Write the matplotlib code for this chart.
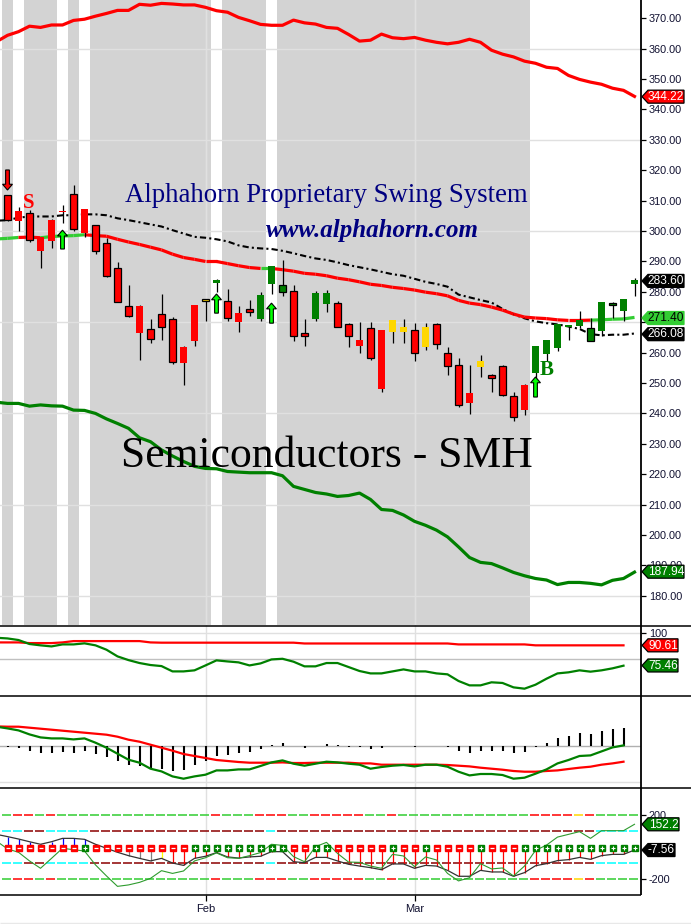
import numpy as np
import matplotlib
matplotlib.use('Agg')
import matplotlib.pyplot as plt
from matplotlib.patches import FancyArrow, Polygon

plt.rcParams['font.family'] = ['Liberation Sans', 'DejaVu Sans']

W, H = 691, 924

# candles, one entry per bar
opens = [312, 306.7, 305.9, 298, 303.7, 306.2, 312.1, 307.3, 302, 296, 287.8, 275.4, 275.5, 267.8, 272.7, 271.1, 262, 275.8, 277.7, 283,
         276.9, 272.9, 274.2, 271.2, 282.7, 279.9, 280.4, 266.5, 271.2, 276.1, 276.3, 269.5, 264, 268.1, 267.3, 270.9, 268.5, 267.5, 268.5, 269.5,
         259.9, 256, 246.8, 257.2, 252.7, 255.6, 245.8, 249.2, 253.2, 259.4, 261.4, 268.6, 268.7, 263.9, 267, 275.6, 273.6, 282.5]
highs = [312, 308, 307, 298, 304, 308.6, 315.2, 307.3, 302, 297.7, 289.8, 282.4, 275.8, 271.2, 279.4, 271.8, 262.3, 275.8, 277.7, 284.2,
         280.9, 275.3, 277.4, 279.9, 288.6, 290.6, 282.4, 271.2, 280.2, 280.7, 276.9, 269.8, 270.2, 270.2, 267.3, 270.9, 271.2, 269.6, 269.8, 269.8,
         262, 258.1, 255.8, 259.1, 253.1, 256, 247.1, 249.8, 262.3, 264, 269.5, 269, 273.8, 271.4, 276.8, 276.7, 277.8, 284.6]
lows = [303.2, 299.9, 296.3, 287.8, 294.4, 302.8, 299.9, 298, 292.6, 285, 276.7, 271.7, 257.5, 263.1, 264.1, 256.2, 249.5, 262.1, 270.3, 280,
        270.3, 266.7, 272, 270.5, 279.4, 278.5, 263.7, 262.1, 270.3, 273.3, 268.4, 261.8, 259.8, 257.5, 247, 263.1, 263.1, 257.2, 261, 261.2,
        252.6, 242, 239.9, 252, 247, 245.7, 237.5, 239.5, 251.5, 257.2, 260.5, 264, 268, 263.9, 265.4, 271.4, 270.3, 278.5]
closes = [303.7, 303.2, 297.1, 293.3, 296.6, 306.4, 300.6, 299.3, 293.3, 285.1, 276.7, 272, 266.4, 264.5, 268.5, 257, 256.5, 263.8, 277, 284,
          271.4, 270, 273.3, 279.1, 288.6, 282.4, 265.4, 265.4, 279.6, 279.6, 268.4, 265.4, 262.3, 258.3, 248, 266.7, 266.7, 259.9, 261.9, 262.9,
          255.6, 242.8, 243.3, 255.2, 251.7, 246.1, 238.9, 241.1, 262.3, 264, 269.5, 268.9, 270.7, 268.2, 276.8, 276.4, 277.8, 284]
candle_colors = list('rrrrrrrrrrrrrrrrrr' 'y' 'g' 'rrr' 'ggg' 'rr' 'gg' 'rrrrr' 'yy' 'r' 'y' 'rrrr' 'y' 'rrrr' 'gggggggggg')
outlined = [0, 2, 6, 8, 9, 10, 11, 13, 14, 15, 18, 20, 22, 25, 26, 27, 30, 31, 33, 37, 39, 40, 41, 44, 45, 46, 53, 55]
white_bars = [1, 5, 7, 19, 24, 48, 49, 50, 51, 52, 53, 54, 55, 56, 57]

# lines start one bar left of the first candle
upper_band = [362.3, 364.4, 365.6, 367.4, 367.0, 367.8, 367.8, 369.3, 369.7, 370.7, 371.6, 372.6, 372.6, 374.6, 374.3, 374.9, 374.7, 374.4, 374.4, 373.6,
              372.5, 372.0, 370.3, 369.2, 368.0, 367.7, 367.7, 369.4, 368.5, 368.1, 367.0, 366.7, 364.7, 362.5, 362.8, 364.8, 363.6, 363.3, 363.7, 362.8,
              362.1, 361.6, 362.1, 363.1, 362.1, 359.5, 358.2, 357.3, 355.9, 355.2, 353.9, 353.5, 351.2, 349.9, 349.0, 348.3, 347.0, 346.3, 344.3]
lower_band = [243.7, 243.3, 243.3, 242.4, 242.8, 242.5, 242.4, 241.1, 241.0, 240.0, 238.2, 236.7, 235.1, 232.0, 230.7, 228.0, 226.0, 224.2, 222.6, 221.9,
              221.8, 220.9, 220.7, 220.5, 220.5, 220.5, 219.5, 216.0, 215.0, 214.0, 213.5, 212.7, 213.0, 213.8, 211.7, 208.4, 208.1, 206.6, 204.5, 203.2,
              201.6, 199.4, 196.1, 192.6, 191.0, 190.6, 189.2, 187.7, 186.6, 185.7, 185.2, 183.7, 184.4, 184.4, 184.1, 183.6, 185.1, 185.7, 187.8]
mid_avg = [297.4, 297.6, 297.9, 298.0, 297.8, 298.2, 298.4, 298.5, 298.8, 298.5, 298.3, 297.3, 296.4, 295.6, 294.7, 293.8, 292.4, 291.3, 290.7, 290.0,
           290.0, 289.3, 288.6, 288.0, 287.7, 287.7, 287.3, 286.8, 286.1, 285.8, 285.3, 284.5, 284.0, 283.3, 282.5, 282.1, 281.5, 281.1, 280.6, 279.9,
           279.4, 278.7, 277.2, 276.3, 275.8, 275.0, 274.0, 272.7, 271.7, 271.4, 271.2, 270.8, 270.6, 270.6, 270.7, 270.8, 271.0, 271.1, 271.6]
mid_green_from = [-1, 0, 3, 4, 5, 6, 23, 53, 54, 55, 56]
long_avg = [303.4, 303.6, 304.4, 304.8, 304.8, 304.8, 305.2, 305.2, 305.5, 305.5, 305.2, 304.2, 303.6, 302.9, 302.2, 301.5, 300.3, 299.2, 298.1, 297.8,
            297.3, 296.6, 295.3, 294.6, 294.3, 294.1, 293.5, 292.7, 291.8, 291.0, 290.5, 289.7, 288.8, 288.1, 287.4, 286.6, 285.8, 285.3, 284.3, 283.3,
            282.6, 281.7, 279.1, 278.2, 277.3, 276.5, 274.4, 272.6, 271.3, 270.3, 269.7, 269.3, 268.6, 267.8, 266.1, 265.7, 265.9, 265.9, 266.3]

# arrows: bar, tail, tip
up_arrows = [(5, 294.1, 300.3), (19, 273, 279.3), (24, 269.7, 276.3), (48, 245.4, 252)]
down_arrows = [(0, 320.1, 313.5)]

# second panel
rsi_red = [92.8, 92.8, 92.8, 92.3, 92.3, 92.3, 92.8, 93.8, 93.8, 93.8, 93.8, 93.8, 93.8, 93.8, 92.8, 92.6, 92.6, 92.6, 92.6, 92.6,
           92.6, 92.6, 92.6, 92.6, 92.6, 92.6, 92.6, 92.6, 92.0, 92.0, 92.0, 92.0, 92.0, 92.0, 92.0, 92.0, 92.0, 92.0, 92.0, 92.0,
           92.0, 92.0, 91.3, 91.3, 91.3, 91.3, 91.3, 91.3, 91.3, 90.6, 90.6, 90.6, 90.6, 90.6, 90.6, 90.6, 90.6, 90.6]
rsi_green = [96.3, 95.8, 94.6, 91.6, 90.6, 89.8, 91.3, 91.3, 92.1, 90.6, 87.3, 82.3, 79.5, 77.3, 75.8, 75.0, 71.0, 71.0, 71.8, 75.5,
             79.3, 78.5, 77.8, 75.5, 77.0, 80.0, 80.5, 78.3, 74.8, 74.8, 77.3, 77.3, 74.3, 71.3, 69.5, 69.5, 71.0, 72.5, 71.0, 71.0,
             69.5, 68.8, 63.8, 60.5, 60.5, 62.8, 62.3, 59.0, 58.0, 61.0, 65.5, 69.5, 70.3, 71.8, 70.8, 71.8, 73.3, 75.3]

# third panel
macd_hist = [-1.3, -2.3, -5, -7, -7, -6.3, -7, -5, -8, -11, -15, -19, -20, -22, -23, -25, -24, -19, -15, -10,
             -9, -7, -6, -3, 1, 2.3, -0.7, -2.3, 0, 2, 1, -1, -1.3, -3, -2.3, -0.3, 0, -1.3, 0, 0,
             -1.3, -5, -7, -5, -5, -5, -7, -6, -1.3, 2.3, 7.7, 9.7, 12.7, 11.7, 14.7, 16.7, 17.7]
macd_red = [19.3, 19, 19, 18, 17, 16, 15, 14, 13, 12, 11, 9, 6, 4, 1, -2, -5, -8.3, -10.3, -12.3,
            -14.3, -15.3, -16.3, -17, -17, -17, -16.7, -17.3, -17.3, -17, -17, -17, -17, -17.7, -17.7, -19, -19, -19, -19, -19,
            -19, -19.3, -20, -20.7, -22, -23, -24, -25.3, -26, -26, -25.3, -24.7, -23.3, -22, -21, -19, -17.7, -16]
macd_green = [19, 17.3, 15.3, 11.3, 8.3, 7.3, 7.3, 6.3, 7.3, 3, -2, -8, -14, -17, -23, -25.7, -30.7, -33, -30.7, -29,
              -24.7, -24.7, -23.7, -23.7, -20.3, -16.7, -14.7, -18, -20, -18, -16, -16.7, -18, -19, -23, -21.3, -20, -19.3, -20.7, -19,
              -19, -21, -26, -29.7, -28.3, -28.3, -29.3, -33, -32, -28, -23.7, -17.7, -14.3, -10.3, -9.7, -5.7, -1.7, 0.3]

# fourth panel
cci_black = [79, 65, 50, 33, 17, 33, 54, 54, 48, 17, -8, -33, -54, -71, -87, -71, -100, -115, -71, -58,
             -35, -62, -69, -62, -58, -29, -29, -92, -98, -65, -65, -87, -108, -119, -129, -142, -106, -106, -133, -115,
             -119, -146, -183, -183, -146, -156, -156, -183, -160, -117, -104, -85, -79, -65, -77, -54, -46, -46, -19]
cci_green = [37, -12, -33, -87, -133, -71, -8, -17, -25, -112, -181, -246, -237, -221, -196, -148, -165, -150, -87, -67,
             -37, -67, -71, -54, -35, 17, 10, -60, -92, 2, 29, -40, -94, -96, -119, -133, -46, -56, -123, -62,
             -81, -165, -212, -192, -104, -137, -131, -181, -119, -21, 12, 62, 79, 96, 54, 102, 102, 102, 142]
cci_marker_level = -8
cci_signs = '-------+---------' '+++++++++' '--' '++' '-' '----' '+' '--' '+' '----' '+' '---' '+++++++++++'
outer_colors = 'GRRGR' + 'G' * 14 + 'R' + 'GGG' + 'RRR' + 'GG' + 'RRRRR' + 'GG' + 'R' + 'G' * 12 + 'RRRR' + 'Y' + 'R' + 'GGGG'
inner_colors = 'CCDD' + 'CCCC' + 'D' * 16 + 'C' + 'D' * 29 + 'CCCC'
stem_colors = ['b'] * 9 + ['gray'] * 5 + ['y'] + ['r'] * 43

month_bars = [18, 37]
month_labels = ['Feb', 'Mar']
price_ticks = list(range(180, 380, 10))
price_grid = [180, 210, 240, 270, 300, 330, 360]
hidden_price_labels = [270]
tag_colors = {'R': '#ff0000', 'G': '#008000', 'L': '#32cd32', 'K': '#000000'}
dash_colors = {'G': '#32cd32', 'R': '#ff0000', 'Y': '#ffd700', 'C': '#00ffff', 'D': '#8b0000'}
body_colors = {'r': '#ff0000', 'g': '#008000', 'y': '#ffd700'}
stem_palette = {'b': '#0000ff', 'gray': '#808080', 'y': '#ffff00', 'r': '#ff0000'}
tick_color = '#101030'


def panel(fig, top, bottom, ylim):
    """Axes placed by image pixels, x runs in bar numbers."""
    ax = fig.add_axes([0, 1 - bottom / H, 641 / W, (bottom - top) / H])
    ax.set_xlim(-7.5 / 11, (641 - 7.5) / 11)
    ax.set_ylim(*ylim)
    for s in ax.spines.values():
        s.set_visible(False)
    ax.set_xticks([])
    ax.yaxis.tick_right()
    ax.tick_params(axis='y', length=3.6, width=0.9, labelsize=7.8, pad=2, labelcolor=tick_color)
    for b in month_bars:
        ax.axvline(b, color='#e0e0e0', lw=1, zorder=1)
    return ax


def add_tag(over, ax, value, text, color, right, textcolor='white', edge='black'):
    y = H - ax.transData.transform((0, value))[1]
    pts = [(642, y), (648, y - 6.5), (right, y - 6.5), (right, y + 6.5), (648, y + 6.5)]
    over.add_patch(Polygon(pts, closed=True, fc=color, ec=edge, lw=0.9, zorder=10))
    over.text((648 + right) / 2, y + 0.3, text, color=textcolor, fontsize=8.6, ha='center', va='center', zorder=11)


fig = plt.figure(figsize=(W / 100, H / 100), dpi=100, facecolor='white')

# price panel
ax = panel(fig, 0, 625, (170.4, 376.02))
x_lines = np.arange(-1, 58)
x_bars = np.arange(58)
for b in x_bars:
    if b not in white_bars:
        ax.axvspan(b - 0.5, b + 0.5, color='#d3d3d3', lw=0, zorder=0)
for b in month_bars:
    ax.axvline(b, color='#e0e0e0', lw=1, zorder=1)
for v in price_grid:
    ax.axhline(v, color='#e0e0e0', lw=1, zorder=1)
ax.set_yticks(price_ticks)
ax.set_yticklabels(['' if v in hidden_price_labels else '%.2f' % v for v in price_ticks])

ax.plot(x_lines, upper_band, color='#ff0000', lw=2.3, zorder=3)
ax.plot(x_lines, lower_band, color='#008000', lw=2.3, zorder=3)
ax.plot(x_lines, long_avg, color='black', lw=1.5, ls=(0, (3, 1.5, 1, 1.5)), zorder=3)
for k in range(len(mid_avg) - 1):
    col = '#32cd32' if k - 1 in mid_green_from else '#ff0000'
    ax.plot(x_lines[k:k + 2], mid_avg[k:k + 2], color=col, lw=2.3, solid_capstyle='butt', zorder=4)

for i in x_bars:
    col = body_colors[candle_colors[i]]
    ax.vlines(i, lows[i], highs[i], color='black', lw=0.9, zorder=5)
    low_body, high_body = sorted((opens[i], closes[i]))
    if i in outlined:
        ax.bar(i, high_body - low_body, bottom=low_body, width=0.56, color=col, edgecolor='black', lw=0.9, zorder=6)
    else:
        ax.bar(i, max(high_body - low_body, 0.4), bottom=low_body, width=0.62, color=col, lw=0, zorder=6)

for b, tail, tip in up_arrows:
    ax.add_patch(FancyArrow(b, tail, 0, tip - tail, width=0.34, head_width=0.9, head_length=1.9,
                            length_includes_head=True, fc='#00ff00', ec='black', lw=0.8, zorder=7))
for b, tail, tip in down_arrows:
    ax.add_patch(FancyArrow(b, tail, 0, tip - tail, width=0.34, head_width=0.9, head_length=1.9,
                            length_includes_head=True, fc='#ff0000', ec='black', lw=0.8, zorder=7))

serif = ['Liberation Serif', 'DejaVu Serif']
fig.text(326 / W, 1 - 195.5 / H, 'Alphahorn Proprietary Swing System', family=serif, color='#000080', fontsize=19.3,
         ha='center', va='center', zorder=20)
fig.text(372.5 / W, 1 - 231 / H, 'www.alphahorn.com', family=serif, color='#000080', fontsize=18, style='italic', weight='bold',
         ha='center', va='center', zorder=20)
fig.text(326.5 / W, 1 - 456 / H, 'Semiconductors - SMH', family=serif, color='black', fontsize=31.4,
         ha='center', va='center', zorder=20)
fig.text(29 / W, 1 - 203 / H, 'S', family=serif, color='#ff0000', fontsize=15, weight='bold', ha='center', va='center', zorder=20)
fig.text(547 / W, 1 - 370 / H, 'B', family=serif, color='#008000', fontsize=15, weight='bold', ha='center', va='center', zorder=20)

# second panel
ax2 = panel(fig, 625, 696, (52.5, 105.9))
ax2.axhline(100, color='#e0e0e0', lw=1, zorder=1)
ax2.axhline(80, color='#c0c0c0', lw=1, zorder=1)
ax2.set_yticks([100])
ax2.plot(x_lines[:58], rsi_red, color='#ff0000', lw=1.6, zorder=3)
ax2.plot(x_lines[:58], rsi_green, color='#008000', lw=1.6, zorder=3)

# third panel
ax3 = panel(fig, 696, 788, (-42.3, 49.7))
ax3.axhline(0, color='#b0b0b0', lw=1, zorder=1)
ax3.axhline(-36, color='#e0e0e0', lw=1, zorder=1)
ax3.set_yticks([])
ax3.vlines(x_bars[:57], 0, macd_hist, color='black', lw=1.5, zorder=2)
ax3.plot(x_lines[:58], macd_red, color='#ff0000', lw=1.6, zorder=3)
ax3.plot(x_lines[:58], macd_green, color='#008000', lw=1.6, zorder=3)

# fourth panel
ax4 = panel(fig, 788, 895, (-300, 368.8))
ax4.set_yticks([200, -200])
ax4.set_yticklabels(['200', '-200'])
ax4.set_xticks(month_bars)
ax4.set_xticklabels(month_labels)
ax4.tick_params(axis='x', length=4.5, width=0.9, labelsize=8, pad=2, labelcolor=tick_color)
for level, colors in [(200, outer_colors), (-200, outer_colors), (100, inner_colors), (-100, inner_colors)]:
    for i in x_bars:
        ax4.hlines(level, i - 0.5, i + 0.32, color=dash_colors[colors[i]], lw=1.1, zorder=2)
ax4.vlines(x_bars, cci_marker_level, cci_black[1:], colors=[stem_palette[c] for c in stem_colors], lw=0.9, zorder=3)
ax4.plot(x_lines, cci_black, color='#333333', lw=0.9, zorder=4)
ax4.plot(x_lines, cci_green, color='#2e9b2e', lw=0.8, zorder=4)
for i in x_bars:
    if cci_signs[i] == '+':
        ax4.plot(i, cci_marker_level, 's', ms=3.8, mfc='#008000', mec='#008000', zorder=5)
        ax4.plot(i, cci_marker_level, '+', ms=2.8, mew=0.8, color='white', zorder=6)
    else:
        ax4.plot(i, cci_marker_level, 's', ms=3.8, mfc='#ff0000', mec='#ff0000', zorder=5)
        ax4.plot(i, cci_marker_level, '_', ms=2.8, mew=0.9, color='white', zorder=6)

# separators, right axis line and value tags sit on top
over = fig.add_axes([0, 0, 1, 1], facecolor='none')
over.set_xlim(0, W)
over.set_ylim(H, 0)
over.axis('off')
over.hlines([625.5, 696, 788], 0, W, color='black', lw=1.1)
over.hlines(895, 0, 641, color='black', lw=1.1)
over.vlines(641, 0, 895, color='black', lw=1.3)
over.hlines(923, 0, W, color='#e8e8e8', lw=1)

add_tag(over, ax, 344.22, '344.22', tag_colors['R'], 684)
add_tag(over, ax, 283.60, '283.60', tag_colors['K'], 684)
add_tag(over, ax, 271.40, '271.40', tag_colors['L'], 684, textcolor='black', edge='#32cd32')
add_tag(over, ax, 266.08, '266.08', tag_colors['K'], 684)
add_tag(over, ax, 187.94, '187.94', tag_colors['G'], 684)
add_tag(over, ax2, 90.61, '90.61', tag_colors['R'], 678)
add_tag(over, ax2, 75.46, '75.46', tag_colors['G'], 678)
add_tag(over, ax4, 142, '152.2', tag_colors['G'], 679)
add_tag(over, ax4, -19, '-7.56', tag_colors['K'], 675)

fig.savefig('out.png', dpi=100)
plt.close(fig)
